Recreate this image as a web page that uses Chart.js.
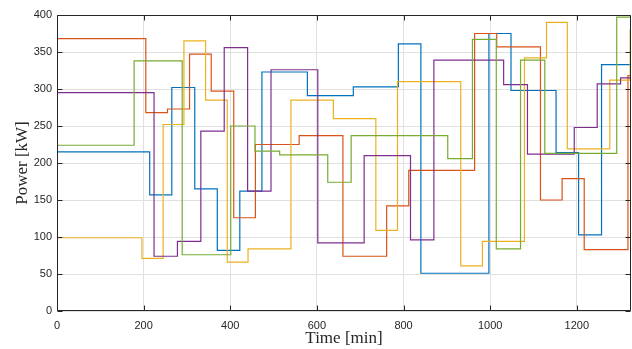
<!DOCTYPE html>
<html><head><meta charset="utf-8">
<script src="https://cdn.jsdelivr.net/npm/chart.js@4.4.1/dist/chart.umd.min.js"></script>
<style>html,body{margin:0;padding:0;background:#fff}canvas{display:block}</style>
</head><body>
<canvas id="c" width="632" height="349"></canvas>
<script>
// ---- data ----
const X_MAX = 1325;
const xTicks = [0, 200, 400, 600, 800, 1000, 1200];
const yTicks = [0, 50, 100, 150, 200, 250, 300, 350, 400];

// change times [min] and values [kW]; each value holds until the next change
const blueT   = [0, 214, 265, 318, 370, 422, 473, 578, 684, 788, 840, 997, 1048, 1152, 1204, 1257];
const blueV   = [215, 157, 302, 165, 82, 162, 323, 291, 303, 361, 51, 375, 298, 214, 103, 333];

const redT    = [0, 205, 255, 306, 356, 408, 458, 559, 660, 761, 812, 964, 1015, 1116, 1166, 1217, 1318];
const redV    = [368, 268, 273, 347, 297, 126, 225, 237, 74, 142, 190, 375, 357, 150, 179, 83, 318];

const yellowT = [0, 196, 245, 293, 343, 393, 441, 540, 638, 736, 786, 932, 982, 1079, 1130, 1178, 1276, 1323];
const yellowV = [99, 71, 252, 365, 285, 66, 84, 285, 260, 109, 310, 61, 94, 342, 390, 219, 312, 380];

const purpleT = [0, 224, 278, 332, 386, 440, 494, 602, 709, 816, 870, 1031, 1086, 1194, 1247, 1301];
const purpleV = [295, 74, 94, 243, 356, 162, 326, 92, 210, 96, 339, 306, 212, 248, 307, 315];

const greenT  = [0, 178, 289, 401, 457, 514, 625, 679, 902, 959, 1014, 1070, 1126, 1292];
const greenV  = [224, 338, 76, 250, 216, 211, 174, 237, 206, 367, 84, 339, 213, 397];

// ---- build ----
function steps(T, V) {
  const pts = T.map((t, i) => ({x: t, y: V[i]}));
  pts.push({x: X_MAX, y: V[V.length - 1]});
  return pts;
}
const defs = [
  [blueT, blueV, '#0072BD'],
  [redT, redV, '#D95319'],
  [yellowT, yellowV, '#EDB120'],
  [purpleT, purpleV, '#7E2F8E'],
  [greenT, greenV, '#77AC30']
];
const datasets = defs.map((d, i) => ({
  data: steps(d[0], d[1]),
  borderColor: d[2],
  borderWidth: 1.2,
  pointRadius: 0,
  stepped: 'before',
  fill: false,
  order: defs.length - i
}));

const AX = '#262626';
const boxPlugin = {
  id: 'box',
  afterDraw(chart) {
    const {ctx, chartArea: a, scales: {x, y}} = chart;
    ctx.save();
    ctx.strokeStyle = AX;
    ctx.lineWidth = 1;
    const L = Math.round(a.left) + 0.5, R = Math.round(a.right) - 0.5;
    const T = Math.round(a.top) + 0.5, B = Math.round(a.bottom) - 0.5;
    ctx.beginPath();
    ctx.rect(L, T, R - L, B - T);
    const tl = 5;
    xTicks.forEach(v => {
      const px = Math.round(x.getPixelForValue(v)) + 0.5;
      ctx.moveTo(px, B); ctx.lineTo(px, B - tl);
      ctx.moveTo(px, T); ctx.lineTo(px, T + tl);
    });
    yTicks.forEach(v => {
      const py = Math.round(y.getPixelForValue(v)) + 0.5;
      ctx.moveTo(L, py); ctx.lineTo(L + tl, py);
      ctx.moveTo(R, py); ctx.lineTo(R - tl, py);
    });
    ctx.stroke();
    ctx.restore();
  }
};

new Chart(document.getElementById('c'), {
  type: 'line',
  data: {datasets},
  options: {
    responsive: false,
    animation: false,
    devicePixelRatio: 1,
    layout: {padding: {top: 15, right: 1, left: 0, bottom: 0}},
    plugins: {legend: {display: false}, tooltip: {enabled: false}},
    scales: {
      x: {
        type: 'linear', min: 0, max: X_MAX,
        afterBuildTicks: s => { s.ticks = xTicks.map(v => ({value: v})); },
        afterFit: s => { s.height = 38; },
        ticks: {font: {family: 'Liberation Sans', size: 11}, color: AX, padding: 8, maxRotation: 0, autoSkip: false,
                callback: v => String(v)},
        grid: {color: '#e0e0e0', drawTicks: false},
        border: {display: false},
        title: {display: true, text: 'Time [min]', font: {family: 'Liberation Serif', size: 17}, color: AX, padding: {top: 0, bottom: 0}}
      },
      y: {
        type: 'linear', min: 0, max: 400,
        afterBuildTicks: s => { s.ticks = yTicks.map(v => ({value: v})); },
        afterFit: s => { s.width = 57; },
        ticks: {font: {family: 'Liberation Sans', size: 11}, color: AX, padding: 5, autoSkip: false,
                callback: v => String(v)},
        grid: {color: '#e0e0e0', drawTicks: false},
        border: {display: false},
        title: {display: true, text: 'Power [kW]', font: {family: 'Liberation Serif', size: 17}, color: AX, padding: {top: 12, bottom: 0}}
      }
    }
  },
  plugins: [boxPlugin]
});
</script>
</body></html>
